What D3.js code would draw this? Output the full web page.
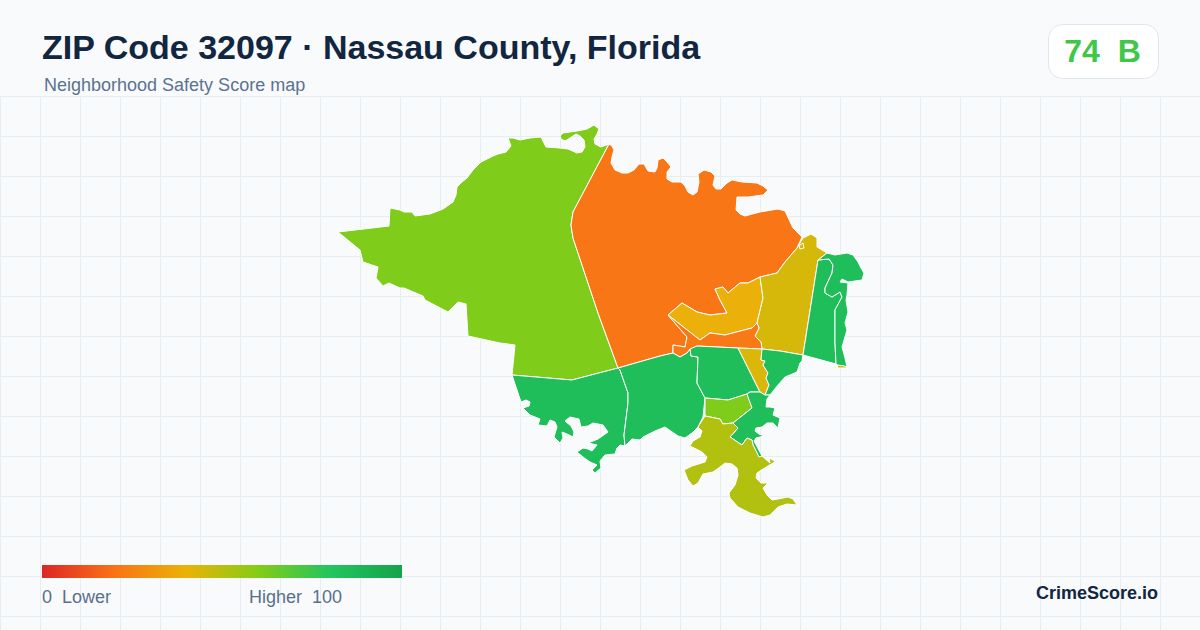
<!DOCTYPE html>
<html>
<head>
<meta charset="utf-8">
<script src="https://cdn.jsdelivr.net/npm/d3@7"></script>
<style>
  html, body { margin: 0; padding: 0; background: #f8fafc; }
  svg { display: block; font-family: "Liberation Sans", Arial, sans-serif; }
  text { white-space: pre; }
</style>
</head>
<body>
<div id="chart"></div>
<script>
// tract scores, same order as tractRings
const tractNames = ["west", "north", "ferry", "yulee", "strip", "southwest", "south", "central", "sliver", "eastbay", "inner", "lowerbay", "tiger", "beachwest", "beacheast", "beachtip", "hook"];
const tractScores = [61, 21, 39, 44, 22, 84, 84, 84, 43, 84, 61, 84, 51, 84, 84, 44, 44];

// legend
const legendStops = [0, 20, 40, 60, 80, 100];
const legendColors = ["#dc2626", "#f97316", "#eab308", "#84cc16", "#22c55e", "#16a34a"];
const legendLow = "0  Lower";
const legendHigh = "Higher  100";

const overallScore = 74;
const overallGrade = "B";

// tract outlines, in map units
const westRing = [[338,232],[389,226],[390,208],[400,210],[404,212],[412,212],[415,216],[430,214],[443,209],[453,202],[456,195],[457,187],[462,182],[467,178],[473,170],[481,162],[493,156],[498,154],[506,152],[511,146],[508,138],[513,138],[520,140],[530,138],[541,137],[546,147],[560,148],[568,149],[577,153],[582,152],[585,147],[584,140],[580,136],[576,134],[570,138],[565,141],[561,139],[560,136],[563,133],[577,131],[587,129],[594,125],[599,129],[597,134],[594,139],[595,144],[601,147],[609,144],[573,212],[571,225],[573,238],[598,313],[618,368],[572,380],[512,375],[515,345],[500,343],[468,336],[466,304],[458,302],[448,312],[425,300],[423,296],[404,288],[400,288],[389,283],[383,286],[376,278],[378,267],[363,262],[360,250]];
const northRing = [[609,144],[612,146],[614,150],[612,157],[611,163],[615,170],[622,173],[628,173],[634,170],[639,164],[644,164],[648,171],[655,172],[657,168],[658,160],[663,158],[667,162],[671,167],[667,172],[667,179],[672,182],[681,182],[685,186],[688,192],[693,195],[697,192],[699,182],[698,174],[704,170],[711,172],[715,176],[713,185],[716,189],[721,189],[727,183],[732,180],[742,182],[757,183],[763,186],[768,190],[763,195],[748,197],[737,197],[736,210],[740,214],[745,216],[760,212],[778,209],[785,211],[793,228],[802,237],[797,248],[785,262],[777,273],[760,277],[748,283],[740,283],[728,293],[723,287],[715,289],[720,300],[727,313],[710,315],[697,312],[682,303],[668,315],[687,337],[685,347],[673,345],[673,353],[660,356],[618,368],[598,313],[573,238],[571,225],[573,212]];
const ferryRing = [[715,289],[723,287],[728,293],[740,283],[748,283],[760,277],[763,298],[757,323],[752,328],[725,335],[710,333],[700,340],[668,315],[682,303],[697,312],[710,315],[727,313],[720,300]];
const yuleeRing = [[760,277],[777,273],[785,262],[797,248],[803,238],[811,234],[817,238],[817,247],[827,253],[818,260],[803,355],[780,351],[762,349],[761,342],[755,336],[759,328],[757,323],[763,298]];
const stripRing = [[668,315],[700,340],[710,333],[725,335],[752,328],[757,323],[759,328],[755,336],[761,342],[762,349],[738,348],[697,346],[687,353],[680,357],[673,353],[673,345],[685,347],[687,337]];
const southwestRing = [[512,375],[572,380],[618,368],[620,370],[628,393],[628,403],[624,435],[625,446],[620,445],[617,448],[615,454],[605,455],[600,461],[601,468],[595,473],[592,470],[597,465],[590,462],[583,457],[577,452],[583,448],[588,449],[592,451],[597,445],[588,443],[598,439],[608,432],[603,425],[593,423],[588,426],[581,427],[579,419],[570,417],[565,421],[571,426],[574,432],[573,437],[567,434],[562,432],[563,438],[560,443],[554,437],[557,427],[555,422],[550,420],[547,426],[538,425],[540,419],[530,415],[523,408],[529,406],[530,402],[526,400],[521,402]];
const southRing = [[618,368],[660,356],[673,353],[680,357],[687,353],[690,349],[691,356],[698,357],[697,383],[705,398],[703,417],[698,427],[692,433],[685,438],[678,436],[665,427],[655,431],[643,437],[640,440],[632,439],[625,446],[624,435],[628,403],[628,393],[620,370]];
const centralRing = [[690,349],[697,346],[738,348],[760,392],[750,392],[747,394],[728,400],[705,398],[697,383],[698,357],[691,356]];
const sliverRing = [[738,348],[762,349],[761,360],[765,361],[763,365],[768,373],[766,378],[769,385],[765,395],[760,392]];
const eastbayRing = [[762,349],[780,351],[803,355],[802,361],[800,363],[797,372],[785,377],[778,385],[770,395],[765,395],[769,385],[766,378],[768,373],[763,365],[765,361],[761,360]];
const innerRing = [[705,398],[728,400],[747,394],[752,408],[733,423],[723,424],[720,419],[705,416]];
const lowerbayRing = [[747,394],[750,392],[760,392],[765,395],[770,395],[767,399],[766,407],[770,407],[775,408],[773,415],[780,418],[778,428],[773,423],[767,423],[762,427],[756,428],[755,431],[759,434],[764,436],[756,438],[754,441],[762,456],[759,457],[753,445],[752,440],[747,438],[742,445],[730,437],[738,428],[733,423],[752,408]];
const tigerRing = [[705,416],[720,419],[723,424],[733,423],[738,428],[730,437],[742,445],[747,438],[752,440],[753,445],[759,457],[762,456],[770,463],[769,458],[775,461],[773,463],[763,469],[757,473],[756,478],[761,483],[768,483],[763,488],[767,495],[772,500],[778,499],[788,497],[793,499],[797,505],[787,504],[778,507],[770,515],[763,517],[750,513],[738,507],[730,498],[729,493],[735,485],[738,475],[737,468],[732,464],[725,463],[720,467],[713,472],[703,474],[698,483],[693,486],[688,480],[684,470],[692,466],[705,462],[707,457],[702,452],[690,446],[693,441],[700,437],[702,431],[698,427]];
const beachwestRing = [[818,260],[829,259],[833,265],[832,273],[825,288],[825,293],[832,297],[840,292],[842,297],[835,310],[835,343],[836,364],[803,355]];
const beacheastRing = [[827,253],[835,255],[847,253],[853,255],[858,262],[861,268],[864,273],[862,280],[848,282],[842,279],[840,282],[848,283],[847,295],[846,300],[848,312],[845,323],[847,330],[842,347],[845,358],[847,367],[837,365],[836,364],[835,343],[835,310],[842,297],[840,292],[832,297],[825,293],[825,288],[832,273],[833,265],[829,259],[818,260]];
const beachtipRing = [[837,365],[845,366],[847,368],[838,368]];
const hookRing = [[799,246],[803,243],[804,248],[800,249]];
const tractRings = [westRing, northRing, ferryRing, yuleeRing, stripRing, southwestRing, southRing, centralRing, sliverRing, eastbayRing, innerRing, lowerbayRing, tigerRing, beachwestRing, beacheastRing, beachtipRing, hookRing];

const width = 1200, height = 630;

const color = d3.scaleLinear().domain(legendStops).range(legendColors);

const svg = d3.select("#chart").append("svg")
  .attr("width", width)
  .attr("height", height)
  .attr("viewBox", [0, 0, width, height]);

svg.append("rect").attr("width", width).attr("height", height).attr("fill", "#f8fafc");

// background grid
const grid = svg.append("g").attr("stroke", "#e7eef3").attr("stroke-width", 1);
grid.selectAll("line.v")
  .data(d3.range(0, width, 40))
  .join("line")
  .attr("class", "v")
  .attr("x1", d => d + 0.5).attr("x2", d => d + 0.5)
  .attr("y1", 96).attr("y2", height);
grid.selectAll("line.h")
  .data(d3.range(96, height, 40))
  .join("line")
  .attr("class", "h")
  .attr("x1", 0).attr("x2", width)
  .attr("y1", d => d + 0.5).attr("y2", d => d + 0.5);

// header
svg.append("text")
  .attr("x", 42).attr("y", 59)
  .attr("font-size", 34).attr("font-weight", 700)
  .attr("fill", "#12263f")
  .text("ZIP Code 32097 · Nassau County, Florida");
svg.append("text")
  .attr("x", 44).attr("y", 91)
  .attr("font-size", 18)
  .attr("fill", "#5b7290")
  .text("Neighborhood Safety Score map");

// score badge
svg.append("rect")
  .attr("x", 1048.5).attr("y", 24.5)
  .attr("width", 110).attr("height", 54).attr("rx", 14)
  .attr("fill", "#ffffff").attr("stroke", "#e0e6ee");
svg.append("text")
  .attr("x", 1102.5).attr("y", 62)
  .attr("text-anchor", "middle")
  .attr("font-size", 32).attr("font-weight", 700)
  .attr("fill", color(overallScore))
  .text(`${overallScore}  ${overallGrade}`);

// map
const features = tractRings.map((ring, i) => ({
  type: "Feature",
  properties: { name: tractNames[i], score: tractScores[i] },
  geometry: { type: "Polygon", coordinates: [ring.concat([ring[0]])] }
}));
const collection = { type: "FeatureCollection", features: features };
const projection = d3.geoIdentity().fitExtent([[338, 125], [864, 517]], collection);
const path = d3.geoPath(projection);

svg.append("g")
  .selectAll("path")
  .data(features)
  .join("path")
  .attr("d", path)
  .attr("fill", d => color(d.properties.score))
  .attr("stroke", "#ffffff")
  .attr("stroke-width", 1)
  .attr("stroke-linejoin", "round");

// legend
const legendX = d3.scaleLinear().domain([0, 100]).range([42, 402]);
const gradient = svg.append("defs").append("linearGradient").attr("id", "score-gradient");
gradient.selectAll("stop")
  .data(legendStops)
  .join("stop")
  .attr("offset", d => d + "%")
  .attr("stop-color", d => color(d));
svg.append("rect")
  .attr("x", legendX(0)).attr("y", 565)
  .attr("width", legendX(100) - legendX(0)).attr("height", 13)
  .attr("fill", "url(#score-gradient)");
svg.append("text")
  .attr("x", 42).attr("y", 603)
  .attr("font-size", 18).attr("fill", "#5b6f8b")
  .text(legendLow);
svg.append("text")
  .attr("x", 342).attr("y", 603)
  .attr("text-anchor", "end")
  .attr("font-size", 18).attr("fill", "#5b6f8b")
  .text(legendHigh);

svg.append("text")
  .attr("x", 1158).attr("y", 599)
  .attr("text-anchor", "end")
  .attr("font-size", 18).attr("font-weight", 700)
  .attr("fill", "#12263f")
  .text("CrimeScore.io");
</script>
</body>
</html>
